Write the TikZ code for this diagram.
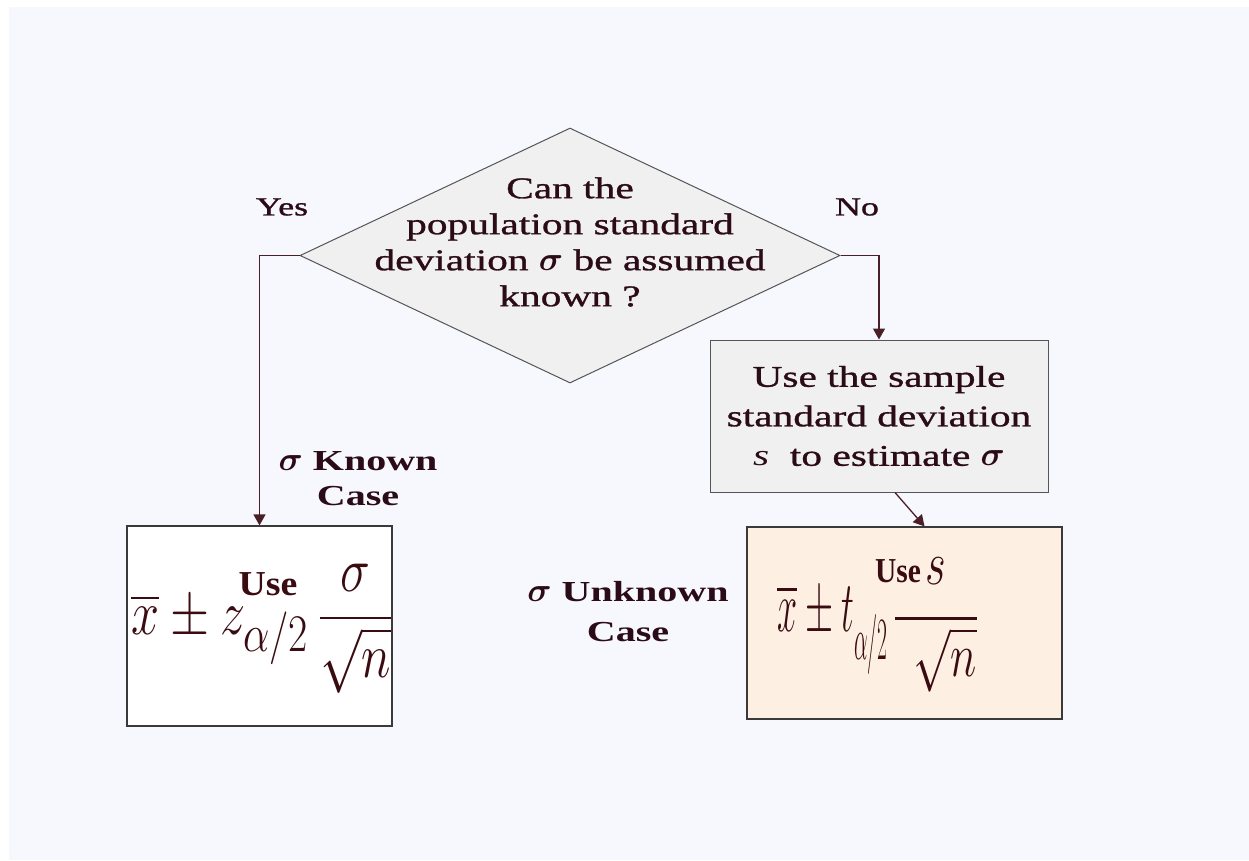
\documentclass[tikz,border=0pt]{standalone}
\usepackage{fontspec}
\usepackage{graphicx}
\usepackage{amsmath}
\setmainfont{Liberation Serif}[FakeStretch=1.38, UprightFeatures={FakeBold=1.0}]
\newfontfamily\usefam{Liberation Serif}[FakeStretch=1.08]
\usetikzlibrary{shapes.geometric,arrows.meta}
\definecolor{bg}{HTML}{F7F8FD}
\definecolor{ink}{HTML}{2B0B17}
\definecolor{mathink}{HTML}{3A0C12}
\definecolor{grayfill}{HTML}{F0F0F0}
\definecolor{peach}{HTML}{FDF0E3}
\definecolor{edge}{HTML}{555555}
\definecolor{boxedge}{HTML}{3A3A3A}
\definecolor{conncol}{HTML}{4A2028}
\newcommand{\bsig}{\scalebox{1.35}{$\boldsymbol{\sigma}$}}
\begin{document}
\begin{tikzpicture}[x=1pt,y=-1pt,
  lbl/.style={text=ink, align=center, inner sep=0pt, font=\fontsize{30}{36}\selectfont},
  casetxt/.style={text=ink, align=center, inner sep=0pt, font=\bfseries\fontsize{29}{35}\selectfont},
  usetxt/.style={text=mathink, inner sep=0pt, font=\usefam\bfseries\fontsize{35}{38}\selectfont},
  mathf/.style={text=mathink, inner sep=0pt},
  conn/.style={draw=conncol, line width=1.3pt, -{Triangle[length=11pt,width=12pt]}},
  graybox/.style={draw=edge, fill=grayfill, line width=1pt},
  fbox/.style={draw=boxedge, line width=1.2pt}
]
\useasboundingbox (0,0) rectangle (1249,860);
\fill[bg] (9,7) rectangle (1249,860);

% decision diamond
\node[diamond, graybox, minimum width=540pt, minimum height=255pt, inner sep=0pt] (dec) at (570,255.5) {};
\node[lbl] (dectxt) at (570,242) {Can the\\population standard\\deviation \bsig{} be assumed\\known ?};

\node[lbl, font=\fontsize{26}{30}\selectfont] (yes) at (282,207) {Yes};
\node[lbl, font=\fontsize{26}{30}\selectfont] (no) at (857,207) {No};

% sample sd box
\node[graybox, minimum width=338pt, minimum height=152pt, inner sep=0pt, text=ink, align=center,
      font=\fontsize{30}{39.5}\selectfont] (sbox) at (879,416)
      {Use the sample\\standard deviation\\{\itshape s}\ \ to estimate \bsig};

% formula boxes
\node[fbox, fill=white, minimum width=265pt, minimum height=200pt] (kbox) at (259.5,626) {};
\node[fbox, fill=peach, minimum width=315pt, minimum height=192pt] (ubox) at (904.5,623) {};

% known-sigma formula
\node[mathf, anchor=base west] (kform) at (131,634) {\scalebox{2.02}[2.55]{\Huge$\overline{x}\pm z_{\alpha/2}\,\dfrac{\sigma}{\sqrt{n}}$}};
\node[usetxt] (kuse) at (268,584) {Use};

% unknown-sigma formula
\node[mathf, anchor=base west] (uA) at (777,631) {\scalebox{1.45}[2.9]{\Huge$\overline{x}\pm t_{\raisebox{-0.25em}{\scalebox{0.72}[1]{$\scriptstyle\alpha/2$}}}$}};
\node[mathf, anchor=base] (uF) at (936,634) {\scalebox{1.8}[2.5]{\Huge$\dfrac{\raisebox{0.12em}{$s$}}{\hspace{0.4em}\sqrt{n}}$}};
\node[usetxt] (uuse) at (898,571) {\scalebox{0.78}[1]{Use}};

% case labels
\node[casetxt] (known) at (358,479) {\bsig{} Known\\Case};
\node[casetxt, font=\bfseries\fontsize{29}{40}\selectfont] (unknown) at (628,612) {\bsig{} Unknown\\Case};

% connectors
\draw[conn] (dec.west) -| (kbox.north);
\draw[conn] (dec.east) -| (sbox.north);
\draw[conn] ([xshift=16pt]sbox.south) -- ([xshift=20pt]ubox.north);
\end{tikzpicture}
\end{document}
